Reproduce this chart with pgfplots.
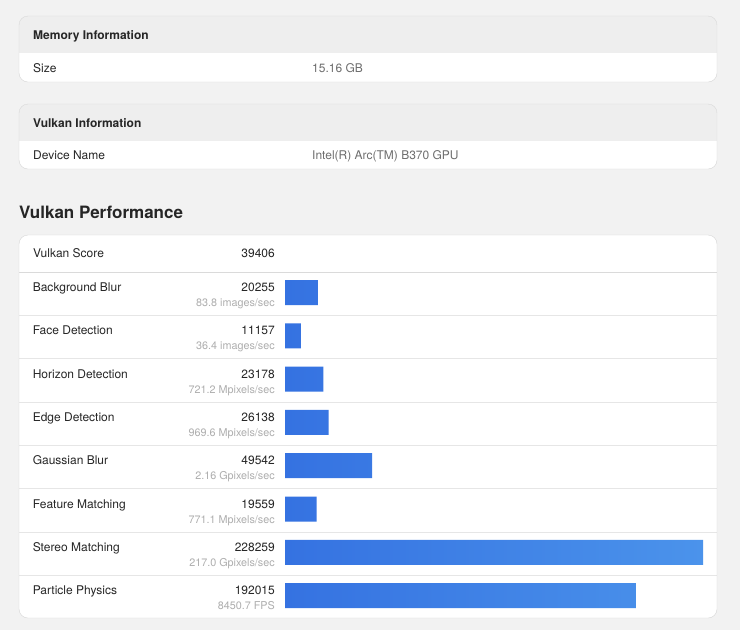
\documentclass[border=0pt]{standalone}
\usepackage{fontspec}
\setmainfont{TeX Gyre Heros}
\usepackage{pgfplots}
\pgfplotsset{compat=1.18}
\definecolor{bg}{HTML}{F2F2F2}
\definecolor{hdr}{HTML}{EEEEEE}
\definecolor{brd}{HTML}{D7D7D7}
\definecolor{sep}{HTML}{E6E6E6}
\definecolor{sep0}{HTML}{DADADA}
\definecolor{txt}{HTML}{262626}
\definecolor{valc}{HTML}{6E6E6E}
\definecolor{subc}{HTML}{AEAEAE}
\definecolor{barL}{HTML}{3572E1}
\definecolor{barR}{HTML}{4B93EB}
\newcommand\rl[3]{\begin{tabular}[t]{@{}r@{}}\color{txt}#2\makebox[0pt][r]{\makebox[242pt][l]{\color{txt}#1}}\\{\color{subc}\fontsize{10.8}{13}\selectfont #3}\end{tabular}}
\begin{document}
\begin{tikzpicture}
\begin{scope}[x=1pt,y=-1pt]
\fill[bg] (0,0) rectangle (740,630);
% Memory panel
\fill[white,rounded corners=9pt] (19,16) rectangle (717,82);
\begin{scope}
\clip[rounded corners=9pt] (19,16) rectangle (717,82);
\fill[hdr] (19,16) rectangle (717,53);
\end{scope}
\draw[brd,rounded corners=9pt] (19,16) rectangle (717,82);
\node[anchor=base west,inner sep=0pt,font=\fontsize{12}{15}\selectfont\bfseries,text=txt] at (33,39.5) {Memory Information};
\node[anchor=base west,inner sep=0pt,font=\fontsize{12}{15}\selectfont,text=txt] at (33,72.5) {Size};
\node[anchor=base west,inner sep=0pt,font=\fontsize{12}{15}\selectfont,text=valc] at (312,72.5) {15.16 GB};
% Vulkan info panel
\fill[white,rounded corners=9pt] (19,104) rectangle (717,169);
\begin{scope}
\clip[rounded corners=9pt] (19,104) rectangle (717,169);
\fill[hdr] (19,104) rectangle (717,141);
\end{scope}
\draw[brd,rounded corners=9pt] (19,104) rectangle (717,169);
\node[anchor=base west,inner sep=0pt,font=\fontsize{12}{15}\selectfont\bfseries,text=txt] at (33,127) {Vulkan Information};
\node[anchor=base west,inner sep=0pt,font=\fontsize{12}{15}\selectfont,text=txt] at (33,159.5) {Device Name};
\node[anchor=base west,inner sep=0pt,font=\fontsize{12}{15}\selectfont,text=valc] at (312,159.5) {Intel(R) Arc(TM) B370 GPU};
% Title
\node[anchor=base west,inner sep=0pt,font=\fontsize{17}{20}\selectfont\bfseries,text=txt] at (19,218.7) {Vulkan Performance};
% Performance panel
\fill[white,rounded corners=9pt] (19,235) rectangle (717,618);
\draw[sep0] (19,272) -- (717,272);
\foreach \k in {1,...,7} {\draw[sep] (19,272+43.3*\k) -- (717,272+43.3*\k);}
\draw[brd,rounded corners=9pt] (19,235) rectangle (717,618);
\node[anchor=base west,inner sep=0pt,font=\fontsize{12}{15}\selectfont,text=txt] at (33,257.5) {Vulkan Score};
\node[anchor=base east,inner sep=0pt,font=\fontsize{12}{15}\selectfont,text=txt] at (275,257.5) {39406};
\end{scope}
\begin{axis}[
  at={(285pt,-270.85pt)}, anchor=north west,
  scale only axis, width=418pt, height=346.4pt,
  xmin=2517, xmax=228259, ymin=-0.5, ymax=7.5, y dir=reverse,
  axis line style={draw=none}, tick style={draw=none}, major tick length=0pt,
  xtick=\empty, ytick={0,...,7},
  yticklabels={
    {\rl{Background Blur}{20255}{83.8 images/sec}},
    {\rl{Face Detection}{11157}{36.4 images/sec}},
    {\rl{Horizon Detection}{23178}{721.2 Mpixels/sec}},
    {\rl{Edge Detection}{26138}{969.6 Mpixels/sec}},
    {\rl{Gaussian Blur}{49542}{2.16 Gpixels/sec}},
    {\rl{Feature Matching}{19559}{771.1 Mpixels/sec}},
    {\rl{Stereo Matching}{228259}{217.0 Gpixels/sec}},
    {\rl{Particle Physics}{192015}{8450.7 FPS}}},
  yticklabel style={anchor=base east, inner sep=0pt, xshift=-10pt, yshift=1pt, font=\fontsize{12}{15}\selectfont},
]
\addplot[xbar, bar width=25pt, bar shift=0pt, draw=none, left color=barL, right color=barR] table {
x y
20255 0
11157 1
23178 2
26138 3
49542 4
19559 5
228259 6
192015 7
};
\end{axis}
\end{tikzpicture}
\end{document}
